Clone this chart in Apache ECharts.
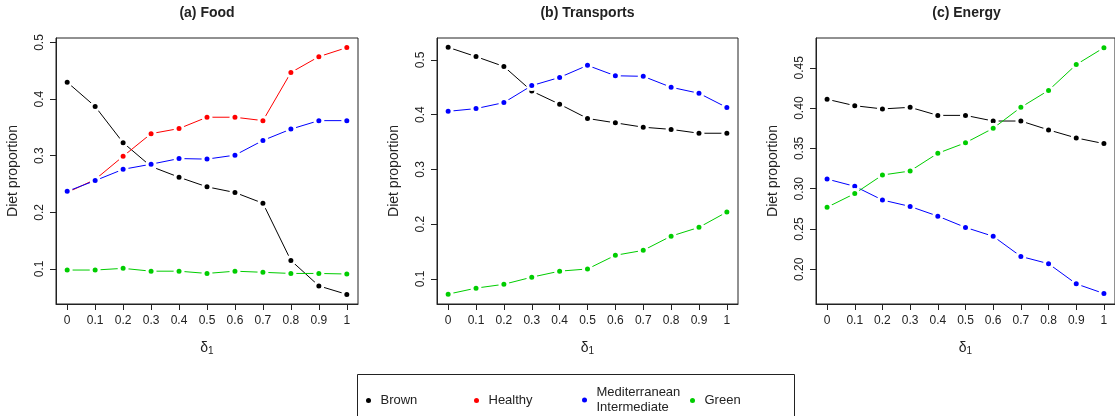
<!DOCTYPE html>
<html>
<head>
<meta charset="utf-8">
<title>Diet proportion</title>
<script src="https://cdn.jsdelivr.net/npm/echarts@6/dist/echarts.min.js"></script>
<style>
  html, body { margin: 0; padding: 0; background: #fff; }
  #chart { width: 1115px; height: 416px; }
</style>
</head>
<body>
<div id="chart"></div>
<script>
// x values (delta_1)
var deltas = [0, 0.1, 0.2, 0.3, 0.4, 0.5, 0.6, 0.7, 0.8, 0.9, 1]

// (a) Food
var foodBrown = [0.430, 0.387, 0.323, 0.281, 0.262, 0.245, 0.235, 0.216, 0.115, 0.070, 0.055]
var foodHealthy = [0.235, 0.258, 0.299, 0.339, 0.348, 0.368, 0.368, 0.362, 0.447, 0.475, 0.491]
var foodMed = [0.237, 0.256, 0.276, 0.285, 0.295, 0.294, 0.301, 0.327, 0.347, 0.362, 0.362]
var foodGreen = [0.098, 0.098, 0.101, 0.096, 0.096, 0.092, 0.096, 0.094, 0.092, 0.092, 0.091]

// (b) Transports
var transBrown = [0.523, 0.506, 0.488, 0.443, 0.419, 0.393, 0.385, 0.377, 0.373, 0.366, 0.366]
var transMed = [0.406, 0.411, 0.422, 0.453, 0.468, 0.490, 0.471, 0.470, 0.450, 0.439, 0.413]
var transGreen = [0.072, 0.083, 0.090, 0.103, 0.114, 0.118, 0.143, 0.152, 0.178, 0.194, 0.222]

// (c) Energy
var energyBrown = [0.411, 0.403, 0.399, 0.401, 0.391, 0.391, 0.384, 0.384, 0.373, 0.363, 0.356]
var energyMed = [0.312, 0.303, 0.286, 0.278, 0.266, 0.252, 0.241, 0.216, 0.207, 0.182, 0.170]
var energyGreen = [0.277, 0.294, 0.317, 0.322, 0.344, 0.357, 0.375, 0.401, 0.422, 0.454, 0.475]

// tick labels
var xTicks = [0, 0.1, 0.2, 0.3, 0.4, 0.5, 0.6, 0.7, 0.8, 0.9, 1]
var foodYTicks = [0.1, 0.2, 0.3, 0.4, 0.5]
var transYTicks = [0.1, 0.2, 0.3, 0.4, 0.5]
var energyYTicks = [0.20, 0.25, 0.30, 0.35, 0.40, 0.45]

var panelTitles = ['(a) Food', '(b) Transports', '(c) Energy']
var dietNames = ['Brown', 'Healthy', 'Mediterranean\nIntermediate', 'Green']
var dietColors = ['#000000', '#ff0000', '#0000ff', '#00cd00']

var chart = echarts.init(document.getElementById('chart'))

var fontFam = '"Liberation Sans", Arial, Helvetica, sans-serif'
// panel geometry
var panels = [
  { left: 56, width: 302, ymin: 0.038, ymax: 0.508, ticks: foodYTicks, dec: 1 },
  { left: 437, width: 301, ymin: 0.054, ymax: 0.540, ticks: transYTicks, dec: 1 },
  { left: 816, width: 301, ymin: 0.157, ymax: 0.487, ticks: energyYTicks, dec: 2 }
]

function pairs(arr) {
  return deltas.map(function(d, i) { return [d, arr[i]] })
}

var grids = []
var xAxes = []
var yAxes = []
var titles = []
panels.forEach(function(p, i) {
  grids.push({
    left: p.left, top: 38, width: p.width, height: 266,
    show: true, borderColor: '#222', borderWidth: 1, backgroundColor: 'transparent'
  })
  xAxes.push({
    type: 'value', gridIndex: i, min: -0.04, max: 1.04, position: 'bottom',
    splitLine: { show: false },
    axisLine: { show: true, onZero: false, lineStyle: { color: '#222', width: 1 } },
    axisTick: { show: true, inside: false, customValues: xTicks, length: 6, lineStyle: { color: '#222' } },
    axisLabel: {
      customValues: xTicks, margin: 11, fontSize: 12, color: '#222', fontFamily: fontFam,
      formatter: function(v) { return String(+v.toFixed(1)) }
    },
    name: '{d|δ}{s|1}', nameLocation: 'middle', nameGap: 36,
    nameTextStyle: {
      rich: {
        d: { fontSize: 14, color: '#222', fontFamily: fontFam },
        s: { fontSize: 10, color: '#222', fontFamily: fontFam, padding: [6, 0, 0, 0] }
      }
    }
  })
  yAxes.push({
    type: 'value', gridIndex: i, min: p.ymin, max: p.ymax, position: 'left',
    splitLine: { show: false },
    axisLine: { show: true, onZero: false, lineStyle: { color: '#222', width: 1 } },
    axisTick: { show: true, inside: false, customValues: p.ticks, length: 6, lineStyle: { color: '#222' } },
    axisLabel: {
      customValues: p.ticks, rotate: 90, margin: 10, fontSize: 12, color: '#222', fontFamily: fontFam,
      formatter: function(v) { return v.toFixed(p.dec) }
    },
    name: 'Diet proportion', nameLocation: 'middle', nameGap: 36,
    nameTextStyle: { fontSize: 14, color: '#222', fontFamily: fontFam }
  })
  titles.push({
    text: panelTitles[i], left: p.left + p.width / 2, top: 6, textAlign: 'center', padding: 0,
    textStyle: { fontSize: 14, fontWeight: 'bold', color: '#222', fontFamily: fontFam }
  })
})

function lineSeries(nameIdx, panelIdx, arr) {
  return {
    type: 'line', name: dietNames[nameIdx],
    xAxisIndex: panelIdx, yAxisIndex: panelIdx,
    data: pairs(arr),
    symbol: 'circle', symbolSize: 8,
    lineStyle: { width: 1, color: dietColors[nameIdx] },
    itemStyle: { color: dietColors[nameIdx], borderColor: '#fff', borderWidth: 3 },
    emphasis: { disabled: true },
    z: 2 + nameIdx
  }
}

var series = [
  lineSeries(0, 0, foodBrown),
  lineSeries(1, 0, foodHealthy),
  lineSeries(2, 0, foodMed),
  lineSeries(3, 0, foodGreen),
  lineSeries(0, 1, transBrown),
  lineSeries(2, 1, transMed),
  lineSeries(3, 1, transGreen),
  lineSeries(0, 2, energyBrown),
  lineSeries(2, 2, energyMed),
  lineSeries(3, 2, energyGreen)
]

// one legend per entry so the items sit at even spacing
var legendLeft = [366, 474, 582, 690]
var legends = dietNames.map(function(n, i) {
  var lines = n.split('\n').length
  return {
    data: [n], left: legendLeft[i], top: lines > 1 ? 385 : 393, padding: 0,
    icon: 'circle', itemWidth: 14, itemHeight: 5,
    itemStyle: { borderWidth: 0 },
    selectedMode: false,
    textStyle: { fontSize: 13, lineHeight: 15, color: '#222', fontFamily: fontFam }
  }
})

chart.setOption({
  animation: false,
  backgroundColor: '#fff',
  title: titles,
  grid: grids,
  xAxis: xAxes,
  yAxis: yAxes,
  legend: legends,
  series: series,
  graphic: [{
    type: 'rect', silent: true,
    shape: { x: 357.5, y: 374.5, width: 437, height: 60 },
    style: { fill: 'none', stroke: '#222', lineWidth: 1 }
  }]
})
</script>
</body>
</html>
